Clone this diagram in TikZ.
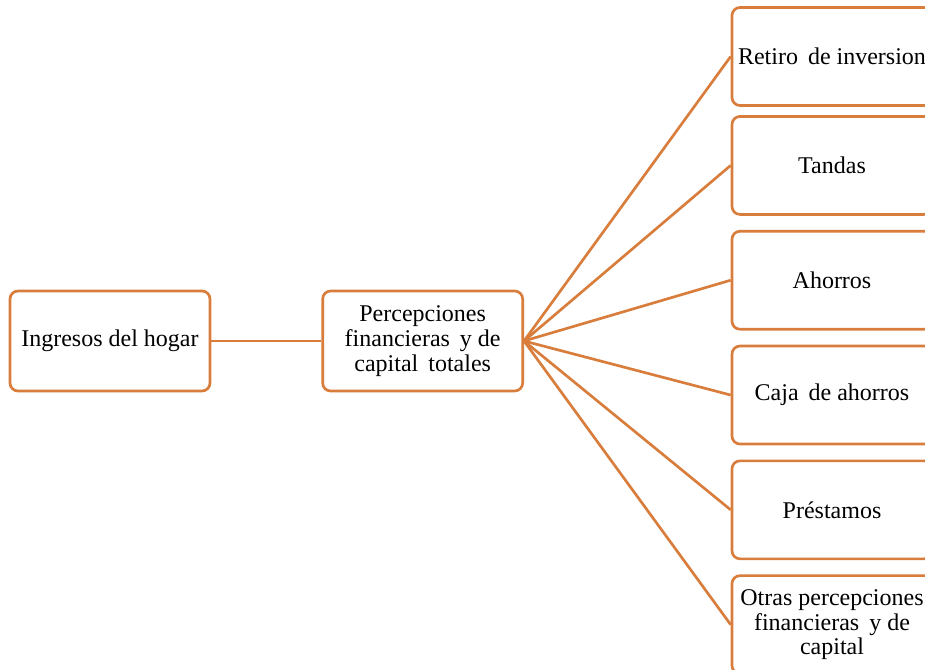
\documentclass[tikz,border=0pt]{standalone}
\usepackage{fontspec}
\setmainfont{Liberation Serif}
\usetikzlibrary{positioning}
\definecolor{naranja}{RGB}{217,125,60}

\begin{document}
\begin{tikzpicture}[
    node distance=1cm,
    mainbox/.style={rectangle, draw=naranja, line width=2pt, fill=white, minimum width=150pt, minimum height=75pt, align=center, rounded corners=6pt, inner sep=2pt, font=\fontsize{18}{18.5}\selectfont},
    itembox/.style={mainbox, minimum height=73.5pt},
    link/.style={draw=naranja, line width=2pt}
]

\useasboundingbox (0,0) rectangle (693.75pt,-502.5pt);
\clip (0,0) rectangle (693.75pt,-502.5pt);

% Ingresos
\node[mainbox] (hogar) at (82.5pt,-255.75pt) {Ingresos del hogar};

% Percepciones
\node[mainbox, right=82.5pt of hogar] (percep) {
    Percepciones\\
    financieras\, y de\\
    capital\, totales
};

% Rubros
\node[itembox] (retiro) at (624pt,-42.375pt) {Retiro\, de inversion};
\node[itembox, below=6.2pt of retiro] (tandas) {Tandas};
\node[itembox, below=10.6pt of tandas] (ahorros) {Ahorros};
\node[itembox, below=10.6pt of ahorros] (caja) {Caja\, de ahorros};
\node[itembox, below=10.6pt of caja] (prestamos) {Préstamos};
\node[itembox, below=10.6pt of prestamos] (otras) {
    Otras percepciones\\
    financieras\, y de\\
    capital
};

% Lineas
\draw[link] (hogar.east) -- (percep.west);
\foreach \rubro in {retiro,tandas,ahorros,caja,prestamos,otras}
    \draw[link] (percep.east) -- (\rubro.west);

\end{tikzpicture}
\end{document}
